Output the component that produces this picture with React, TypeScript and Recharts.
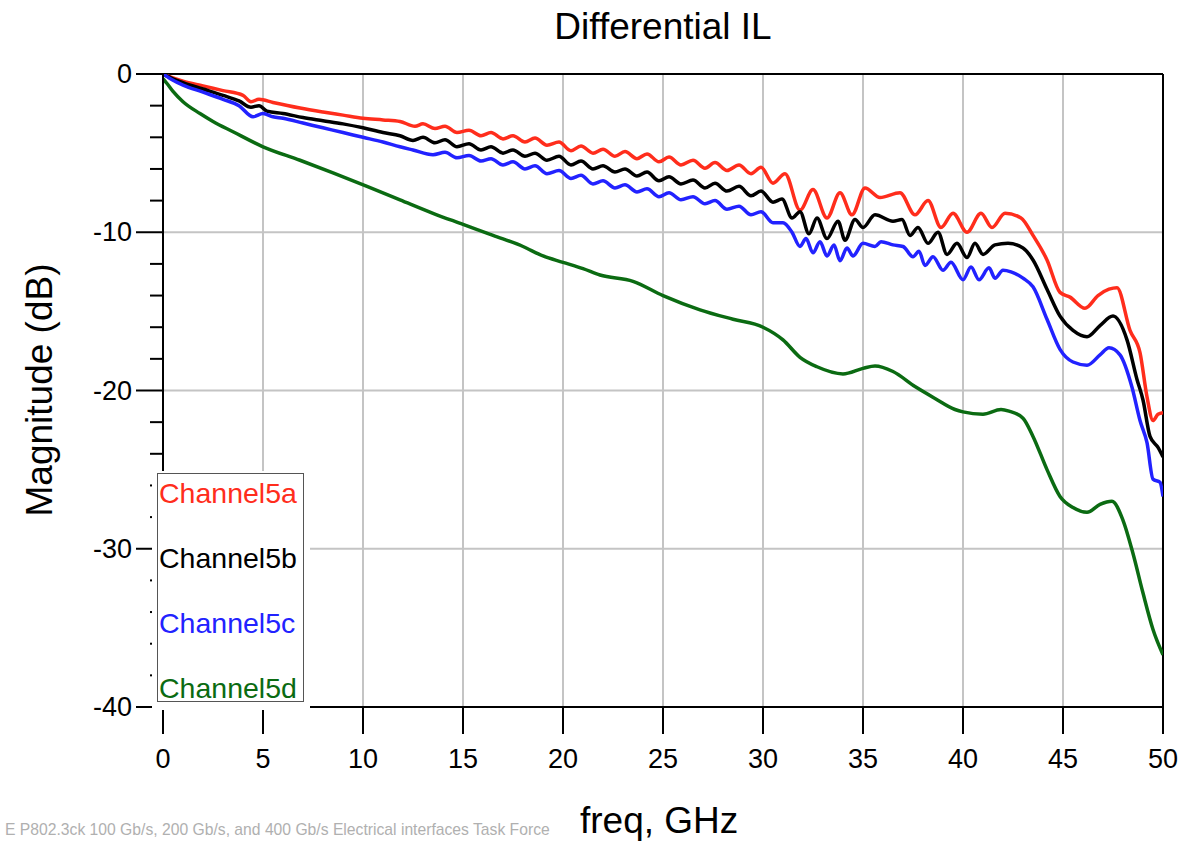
import React from 'react'
import { LineChart, Line, XAxis, YAxis, CartesianGrid, ReferenceLine } from 'recharts'

// frequency (GHz) / magnitude (dB) pairs
const ch5aFreq = [0, 0.5, 1, 2, 3, 4, 4.4, 4.8, 5.5, 6.85, 8, 9, 10, 11, 11.85, 12.6, 13, 13.6, 14.1, 14.7, 15.3, 15.9, 16.4, 17, 17.5, 18.1, 18.6, 19.2, 19.8, 20.4, 20.9, 21.5, 22, 22.6, 23.1, 23.7, 24.2, 24.8, 25.3, 25.9, 26.5, 27.1, 27.6, 28.2, 28.8, 29.4, 29.9, 30.5, 31.1, 31.85, 32.5, 33.2, 33.85, 34.45, 35.1, 35.85, 36.85, 37.6, 38.25, 38.9, 39.5, 40.2, 40.9, 41.45, 42.1, 42.9, 43.5, 44.2, 44.85, 45.35, 46.1, 46.75, 47.3, 47.7, 48.35, 48.85, 49.2, 49.5, 49.75, 50]
const ch5aDb = [0, -0.25, -0.45, -0.75, -1.05, -1.35, -1.75, -1.6, -1.8, -2.15, -2.4, -2.6, -2.8, -2.9, -3.0, -3.3, -3.15, -3.45, -3.3, -3.7, -3.55, -3.9, -3.7, -4.1, -3.9, -4.3, -4.05, -4.5, -4.3, -4.85, -4.55, -5.0, -4.75, -5.2, -4.9, -5.35, -5.05, -5.55, -5.25, -5.75, -5.45, -5.95, -5.6, -6.1, -5.75, -6.3, -5.9, -6.9, -6.3, -8.6, -7.3, -9.1, -7.5, -8.9, -7.2, -7.8, -7.5, -8.9, -8.0, -9.7, -8.8, -10.0, -8.8, -9.7, -8.8, -9.1, -10.2, -11.75, -13.8, -14.1, -14.8, -14.0, -13.6, -13.5, -16.2, -17.6, -20.4, -21.9, -21.5, -21.4]

const ch5bFreq = [0, 0.5, 1, 2, 3, 3.8, 4.4, 4.8, 5.2, 6, 7, 8, 9, 10, 11, 11.85, 12.5, 13, 13.6, 14.1, 14.7, 15.3, 15.9, 16.4, 17, 17.5, 18.1, 18.6, 19.2, 19.8, 20.4, 20.9, 21.5, 22, 22.6, 23.1, 23.7, 24.2, 24.8, 25.3, 25.9, 26.5, 27.1, 27.6, 28.2, 28.8, 29.4, 29.9, 30.5, 30.95, 31.45, 31.85, 32.3, 32.7, 33.2, 33.75, 34.1, 34.6, 35, 35.6, 36.5, 36.95, 37.35, 37.75, 38.25, 38.75, 39.2, 39.7, 40.2, 40.6, 41, 41.6, 42.25, 43, 43.5, 44.2, 44.85, 45.5, 46.2, 46.85, 47.5, 48.2, 48.7, 49, 49.35, 49.75, 50]
const ch5bDb = [0, -0.3, -0.55, -0.95, -1.35, -1.7, -2.1, -2.0, -2.35, -2.5, -2.75, -2.95, -3.15, -3.4, -3.7, -3.9, -4.2, -4.0, -4.35, -4.15, -4.6, -4.4, -4.8, -4.6, -5.0, -4.8, -5.2, -5.0, -5.45, -5.2, -5.75, -5.5, -6.0, -5.8, -6.2, -6.0, -6.45, -6.2, -6.75, -6.5, -6.95, -6.7, -7.2, -6.9, -7.4, -7.1, -7.7, -7.4, -8.1, -7.9, -9.1, -8.7, -10.1, -9.1, -10.4, -9.3, -10.5, -9.2, -9.7, -8.9, -9.3, -9.2, -10.2, -9.7, -10.7, -10.0, -11.4, -10.7, -11.6, -10.7, -11.4, -10.8, -10.7, -11.0, -11.75, -13.6, -15.3, -16.2, -16.6, -15.9, -15.3, -16.8, -19.3, -20.6, -22.9, -23.6, -24.2]

const ch5cFreq = [0, 0.5, 1, 2, 3, 3.8, 4.5, 5, 5.5, 6, 7, 8, 9, 10, 11, 11.85, 12.5, 13.5, 14.1, 14.7, 15.3, 15.9, 16.4, 17, 17.5, 18.1, 18.6, 19.2, 19.8, 20.4, 20.9, 21.5, 22, 22.6, 23.1, 23.7, 24.2, 24.8, 25.3, 25.9, 26.5, 27.1, 27.6, 28.2, 28.8, 29.4, 29.9, 30.5, 31, 31.45, 31.85, 32.15, 32.5, 32.85, 33.2, 33.55, 33.85, 34.2, 34.5, 35, 35.6, 35.9, 36.5, 37, 37.5, 37.8, 38.1, 38.5, 39, 39.4, 40, 40.4, 40.8, 41.3, 41.6, 42, 42.4, 43, 43.5, 44.2, 44.85, 45.5, 46.2, 46.85, 47.3, 47.85, 48.45, 48.85, 49.2, 49.5, 49.85, 50]
const ch5cDb = [0, -0.4, -0.7, -1.15, -1.6, -2.0, -2.7, -2.5, -2.7, -2.8, -3.1, -3.4, -3.7, -4.0, -4.3, -4.6, -4.8, -5.1, -4.95, -5.3, -5.15, -5.5, -5.35, -5.75, -5.55, -6.0, -5.8, -6.3, -6.1, -6.6, -6.4, -6.95, -6.75, -7.2, -7.0, -7.45, -7.25, -7.75, -7.5, -7.95, -7.75, -8.2, -8.0, -8.55, -8.35, -8.9, -8.7, -9.4, -9.4, -10.0, -10.9, -10.4, -11.3, -10.6, -11.5, -10.8, -11.8, -11.0, -11.5, -10.7, -10.9, -10.6, -10.8, -10.9, -11.55, -11.2, -12.1, -11.55, -12.4, -11.9, -13.0, -12.2, -13.0, -12.25, -12.9, -12.4, -12.5, -12.9, -13.45, -15.5, -17.4, -18.2, -18.4, -17.75, -17.3, -17.75, -19.8, -21.9, -23.3, -25.6, -25.8, -26.7]

const ch5dFreq = [0, 0.2, 0.5, 1, 1.85, 2.5, 3.5, 5, 6.85, 8.5, 10.2, 11.85, 13.5, 15, 16.5, 18, 19, 20, 21, 21.85, 23.5, 25, 26.85, 28.5, 30, 31, 31.85, 32.7, 34, 35, 35.6, 36.5, 37.6, 38.6, 39.6, 40, 41, 41.9, 42.3, 43, 43.5, 44.2, 44.85, 45.5, 46.2, 46.85, 47.45, 48, 48.5, 49, 49.5, 50]
const ch5dDb = [-0.3, -0.6, -1.1, -1.75, -2.5, -3.0, -3.65, -4.6, -5.45, -6.25, -7.1, -7.95, -8.8, -9.5, -10.2, -10.9, -11.5, -11.9, -12.3, -12.7, -13.1, -14.0, -14.9, -15.5, -16.0, -16.8, -17.9, -18.5, -18.95, -18.6, -18.45, -18.8, -19.75, -20.5, -21.2, -21.35, -21.5, -21.2, -21.3, -21.75, -22.9, -25.0, -26.7, -27.4, -27.7, -27.2, -27.0, -28.2, -30.3, -32.8, -35.1, -36.7]

const xTicks = [0, 5, 10, 15, 20, 25, 30, 35, 40, 45, 50]
const yTicks = [0, -2, -4, -6, -8, -10, -12, -14, -16, -18, -20, -22, -24, -26, -28, -30, -32, -34, -36, -38, -40]
const xGrid = [5, 10, 15, 20, 25, 30, 35, 40, 45]
const yGrid = [-10, -20, -30]

const toPoints = (f: number[], db: number[]) => f.map((x, i) => ({ f: x, db: db[i] }))

const series = [
  { name: 'Channel5a', color: '#ff2d1c', data: toPoints(ch5aFreq, ch5aDb) },
  { name: 'Channel5b', color: '#000000', data: toPoints(ch5bFreq, ch5bDb) },
  { name: 'Channel5c', color: '#2222ff', data: toPoints(ch5cFreq, ch5cDb) },
  { name: 'Channel5d', color: '#0b6b12', data: toPoints(ch5dFreq, ch5dDb) },
]

const FONT = '"Liberation Sans", Arial, Helvetica, sans-serif'

function YTick({ x, y, payload }: any) {
  const major = payload.value % 10 === 0
  return (
    <g>
      <line x1={x - (major ? 27 : 13)} x2={x} y1={y} y2={y} stroke="#000" strokeWidth={2} />
      {major && (
        <text x={x - 31} y={y} dy={9} textAnchor="end" fontSize={27} fontFamily={FONT} fill="#000">
          {payload.value}
        </text>
      )}
    </g>
  )
}

function XTick({ x, y, payload }: any) {
  return (
    <g>
      <line x1={x} x2={x} y1={y} y2={y + 27} stroke="#000" strokeWidth={2} />
      <text x={x} y={y + 61} textAnchor="middle" fontSize={27} fontFamily={FONT} fill="#000">
        {payload.value}
      </text>
    </g>
  )
}

export default function App() {
  return (
    <div style={{ position: 'absolute', left: 0, top: 0, width: 1204, height: 844, background: '#fff', fontFamily: FONT }}>
      <LineChart width={1204} height={844} margin={{ top: 74, right: 41, bottom: 0, left: 0 }}>
        <CartesianGrid stroke="#c4c4c4" strokeWidth={2} horizontalValues={yGrid} verticalValues={xGrid} />
        <XAxis
          type="number"
          dataKey="f"
          domain={[0, 50]}
          ticks={xTicks}
          allowDataOverflow
          tickSize={0}
          tickMargin={0}
          tickLine={false}
          axisLine={{ stroke: '#000', strokeWidth: 2 }}
          tick={<XTick />}
          height={137}
        />
        <YAxis
          type="number"
          domain={[-40, 0]}
          ticks={yTicks}
          interval={0}
          allowDataOverflow
          width={163}
          tickSize={0}
          tickMargin={0}
          tickLine={false}
          axisLine={{ stroke: '#000', strokeWidth: 2 }}
          tick={<YTick />}
        />
        <ReferenceLine y={0} stroke="#000" strokeWidth={2} />
        <ReferenceLine x={50} stroke="#000" strokeWidth={2} />
        {series.map(s => (
          <Line
            key={s.name}
            data={s.data}
            dataKey="db"
            name={s.name}
            type="monotone"
            stroke={s.color}
            strokeWidth={3.5}
            dot={false}
            isAnimationActive={false}
          />
        ))}
      </LineChart>

      <div style={{ position: 'absolute', left: 0, width: 1204, top: 6, textAlign: 'center', paddingLeft: 122, boxSizing: 'border-box', fontSize: 37, color: '#000' }}>
        Differential IL
      </div>
      <div
        style={{
          position: 'absolute', left: 40, top: 390, transform: 'translate(-50%, -50%) rotate(-90deg)',
          fontSize: 37, whiteSpace: 'nowrap', color: '#000',
        }}
      >
        Magnitude (dB)
      </div>
      <div style={{ position: 'absolute', left: 580, top: 800, fontSize: 37, whiteSpace: 'nowrap', color: '#000' }}>
        freq, GHz
      </div>
      <div style={{ position: 'absolute', left: 5, top: 821, fontSize: 15.7, whiteSpace: 'nowrap', color: '#b0b0b0' }}>
        E P802.3ck 100 Gb/s, 200 Gb/s, and 400 Gb/s Electrical interfaces Task Force
      </div>

      <div style={{ position: 'absolute', left: 152, top: 471, width: 158, height: 239, background: '#fff' }} />
      <div
        style={{
          position: 'absolute', left: 157, top: 473, width: 147, height: 229, boxSizing: 'border-box',
          border: '1.5px solid #555', background: '#fff',
        }}
      >
        {series.map((s, i) => (
          <div
            key={s.name}
            style={{ position: 'absolute', left: 1, top: 3 + i * 65, fontSize: 28.5, lineHeight: '32px', color: s.color, whiteSpace: 'nowrap' }}
          >
            {s.name}
          </div>
        ))}
      </div>
    </div>
  )
}
